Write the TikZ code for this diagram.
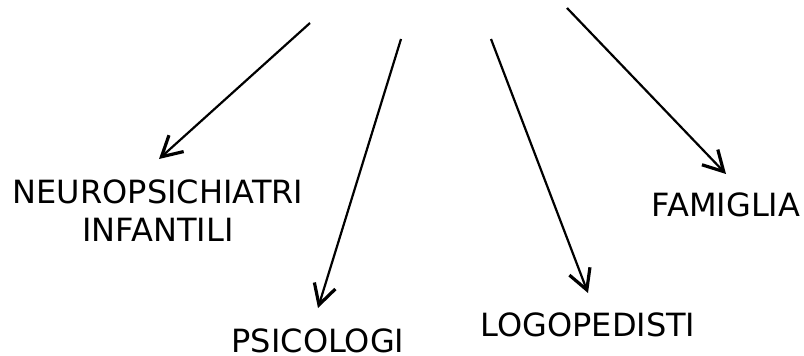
\documentclass[tikz,border=0pt]{standalone}
\usepackage{fontspec}
\setmainfont{DejaVu Sans}
\usetikzlibrary{arrows.meta}
\begin{document}
\begin{tikzpicture}[x=1pt,y=-1pt,
  lbl/.style={inner sep=0pt,align=center,font=\fontsize{32}{38}\selectfont},
  arr/.style={line width=2.2pt,-{Straight Barb[length=20pt,width=22pt,line width=3.2pt]}}]
\useasboundingbox (0,0) rectangle (804,356);
\node[lbl] (neuro) at (158,211) {NEUROPSICHIATRI\\INFANTILI};
\node[lbl] (psico) at (318,340.5) {PSICOLOGI};
\node[lbl] (logo) at (588,325) {LOGOPEDISTI};
\node[lbl] (fam) at (726,205) {FAMIGLIA};
\coordinate (s1) at (310,23);
\coordinate (s2) at (401,39);
\coordinate (s3) at (491,39);
\coordinate (s4) at (567,8);
\coordinate (t1) at (159,159);
\coordinate (t2) at (318,308);
\coordinate (t3) at (588,293);
\coordinate (t4) at (726,174);
\draw[arr] (s1) -- (t1);
\draw[arr] (s2) -- (t2);
\draw[arr] (s3) -- (t3);
\draw[arr] (s4) -- (t4);
\end{tikzpicture}
\end{document}
